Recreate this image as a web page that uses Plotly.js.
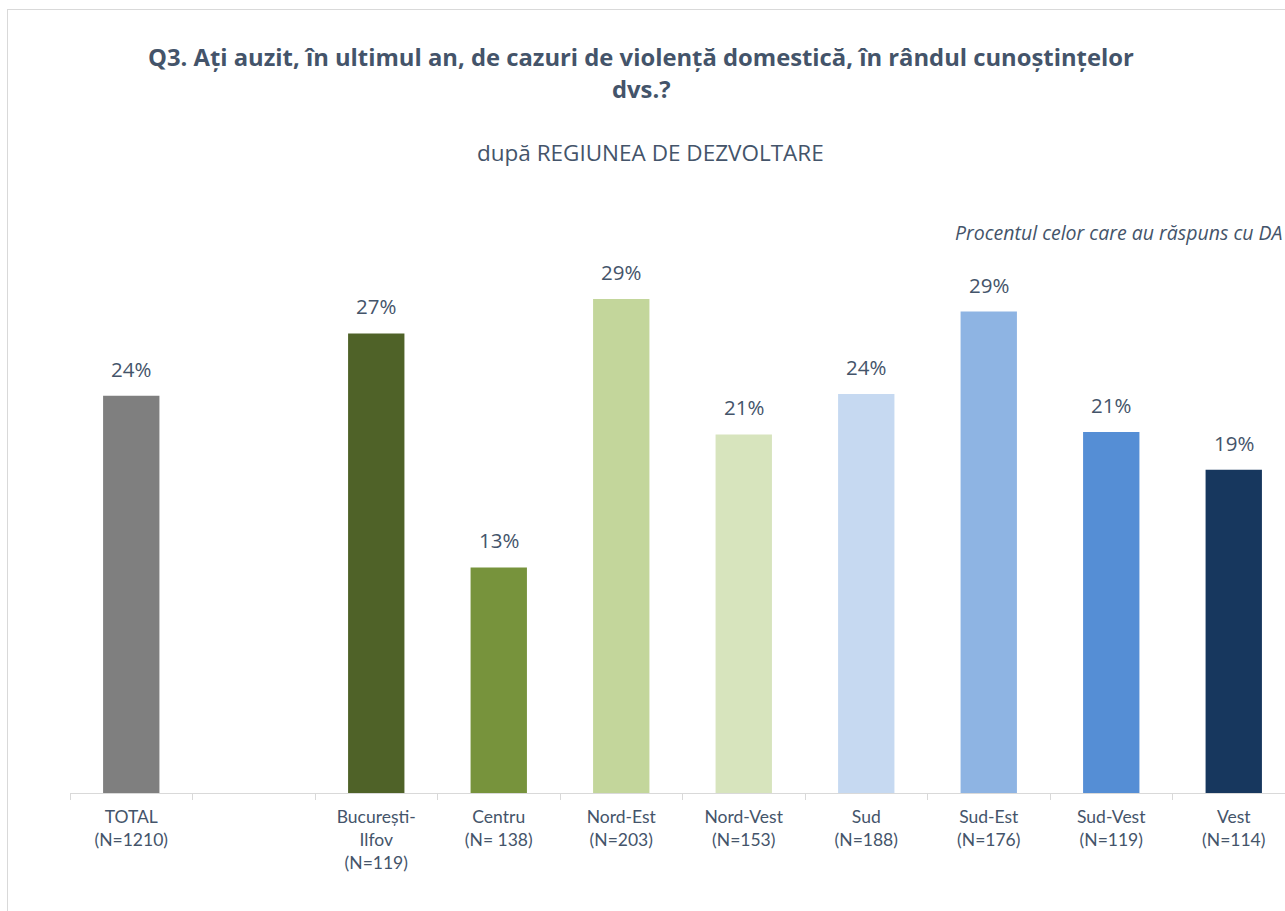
<!DOCTYPE html>
<html>
<head>
<meta charset="utf-8">
<script src="https://cdn.plot.ly/plotly-3.0.1.min.js"></script>
<style>
html, body { margin:0; padding:0; overflow:hidden; background:#ffffff; width:1285px; height:911px; }
#frame { position:absolute; left:7px; top:9px; width:2000px; height:2000px; border:1px solid #D9D9D9; }
#chart { position:absolute; left:0; top:0; width:1300px; height:911px; }
</style>
</head>
<body>
<div id="frame"></div>
<div id="chart"></div>
<script>
const categories = ["TOTAL<br>(N=1210)", " ", "București-<br>Ilfov<br>(N=119)", "Centru<br>(N= 138)", "Nord-Est<br>(N=203)", "Nord-Vest<br>(N=153)", "Sud<br>(N=188)", "Sud-Est<br>(N=176)", "Sud-Vest<br>(N=119)", "Vest<br>(N=114)"];
const values = [23.6, null, 27.3, 13.4, 29.35, 21.3, 23.7, 28.6, 21.45, 19.2];
const colors = ["#7F7F7F", "#FFFFFF", "#4F6228", "#77933C", "#C3D69B", "#D7E4BD", "#C6D9F1", "#8EB4E3", "#558ED5", "#17375E"];

const textColor = "#44546A";
const TICKFONT = "Lato, 'Open Sans', sans-serif";
const FONT = "'Open Sans', Lato, sans-serif";

const valueAnnotations = [];
categories.forEach((c, i) => {
  if (values[i] === null) return;
  valueAnnotations.push({
    x: c, y: values[i], xref: 'x', yref: 'y',
    text: Math.round(values[i]) + '%',
    showarrow: false, yanchor: 'bottom', yshift: 11,
    font: {family: FONT, size: 20.5, color: textColor}
  });
});

// paper mapping helpers: plot spans x 70..1295, y 250..793
const L = 70, W = 1225, T = 250, B = 793;
const px = p => (p - L) / W;
const py = p => (B - p) / (B - T);

const annotations = valueAnnotations.concat([
  {xref:'paper', yref:'paper', x: px(641), y: py(57), text: '<b>Q3. Ați auzit, în ultimul an, de cazuri de violență domestică, în rândul cunoștințelor</b>', showarrow:false, xanchor:'center', yanchor:'middle', font:{family:FONT, size:23.8, color:textColor}},
  {xref:'paper', yref:'paper', x: px(641), y: py(89), text: '<b>dvs.?</b>', showarrow:false, xanchor:'center', yanchor:'middle', font:{family:FONT, size:23.8, color:textColor}},
  {xref:'paper', yref:'paper', x: px(650), y: py(153), text: 'după REGIUNEA DE DEZVOLTARE', showarrow:false, xanchor:'center', yanchor:'middle', font:{family:FONT, size:22.5, color:textColor}},
  {xref:'paper', yref:'paper', x: px(1284), y: py(232), text: '<i>Procentul celor care au răspuns cu DA</i>', showarrow:false, xanchor:'right', yanchor:'middle', font:{family:FONT, size:19.5, color:textColor}}
]);

const trace = {
  type: 'bar',
  x: categories,
  y: values,
  marker: {color: colors},
  hoverinfo: 'none'
};

const layout = {
  width: 1300, height: 911,
  margin: {l: L, r: 1300 - L - W, t: T, b: 911 - B, pad: 0},
  paper_bgcolor: 'rgba(0,0,0,0)',
  plot_bgcolor: 'rgba(0,0,0,0)',
  bargap: 0.54,
  showlegend: false,
  xaxis: {
    type: 'category',
    categoryorder: 'array', categoryarray: categories,
    showline: true, linecolor: '#D9D9D9', linewidth: 1,
    ticks: 'outside', tickson: 'boundaries', ticklen: 6, tickcolor: '#D9D9D9',
    tickfont: {family: TICKFONT, size: 17.5, color: textColor},
    ticklabelstandoff: 8,
    showgrid: false, zeroline: false, fixedrange: true
  },
  yaxis: {
    range: [0, 32.26],
    visible: false, showgrid: false, zeroline: false, fixedrange: true
  },
  annotations: annotations
};

Plotly.newPlot('chart', [trace], layout, {displayModeBar: false, staticPlot: true});
</script>
</body>
</html>
